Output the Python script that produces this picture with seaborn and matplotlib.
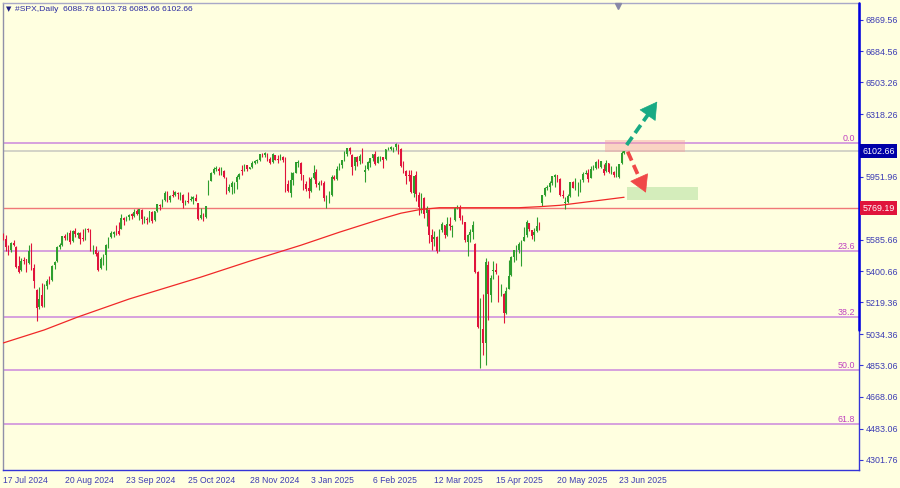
import numpy as np
import pandas as pd
import matplotlib
matplotlib.use("Agg")
import matplotlib.pyplot as plt
import matplotlib.transforms as mtransforms
from matplotlib.patches import Rectangle
import seaborn as sns

# ---------------- data ----------------
opens = [
    5610,5590,5543,5525,5566,5545,5430,5410,5465,5470,5450,
    5530,5420,5290,5190,5260,5220,5318,5345,5350,5435,5460,5540,5555,5605,5598,5625,5575,5635,5612,5625,5595,5600,
    5645,5640,5520,5525,5505,5420,5475,5495,5555,5600,5620,5635,5635,5650,5710,5705,5720,5733,5725,5750,5735,
    5758,5705,5705,5712,5745,5700,5750,5785,5780,5815,5860,5815,5845,5845,5860,5850,5845,5800,5810,5815,5820,5830,5800,
    5710,5730,5715,5850,5930,5975,5998,6000,5985,5985,5945,5870,5890,5915,5920,5950,5990,5985,6020,5998,6008,
    6030,6045,6050,6085,6078,6088,6055,6040,6080,6055,6055,6070,6050,5910,5860,5935,5975,6035,6035,5965,5910,
    5885,5870,5945,5978,5905,5918,5915,5820,5840,5845,5950,5940,5997,6020,6050,6085,6120,6080,6015,6065,6045,6080,
    5980,5995,6035,6060,6085,6030,6060,6065,6055,6115,6115,6125,6125,6140,6115,6015,5985,5960,5960,5860,
    5960,5845,5780,5830,5740,5760,5610,5590,5600,5525,5640,5670,5615,5675,5660,5700,5770,5775,5710,5690,5570,
    5610,5630,5560,5395,4990,5065,4985,5440,5265,5400,5410,5370,5280,5270,5160,5300,5380,5485,5525,5528,5560,
    5580,5610,5680,5640,5610,5635,5665,5800,5845,5885,5890,5915,5950,5960,5940,5845,5800,5803,5840,5920,5890,5910,
    5890,5935,5970,5975,5945,6000,6005,6040,6010,6000,5985,6030,5980,5981,5965,5950,6030,6088.78,
]
highs = [
    5622,5614,5557,5570,5585,5550,5490,5480,5487,5475,5552,
    5566,5441,5300,5312,5330,5328,5356,5371,5436,5464,5546,5564,5609,5620,5632,5642,5642,5651,5632,5629,5646,5651,
    5655,5645,5552,5550,5522,5484,5500,5560,5600,5636,5638,5670,5690,5733,5716,5725,5735,5742,5767,5765,5763,
    5765,5721,5718,5753,5750,5755,5796,5795,5822,5871,5870,5845,5878,5870,5866,5864,5850,5817,5862,5843,5840,5850,5802,
    5772,5741,5783,5936,5983,6012,6017,6010,6008,5993,5950,5908,5925,5920,5962,5973,6020,6025,6020,6012,6044,
    6053,6055,6088,6090,6099,6090,6066,6092,6080,6078,6085,6073,6070,5936,5982,5978,6040,6049,6037,5965,5930,
    5950,5950,6021,6000,5927,5935,5925,5847,5871,5960,5964,6014,6030,6051,6100,6119,6128,6085,6069,6074,6087,6120,
    6022,6042,6062,6084,6101,6074,6076,6065,6116,6127,6130,6129,6147,6143,6120,6044,5992,5994,5994,5959,
    5986,5865,5860,5834,5783,5765,5649,5637,5609,5645,5688,5670,5716,5715,5670,5775,5786,5788,5732,5690,5621,
    5650,5695,5565,5400,5246,5267,5481,5460,5381,5460,5450,5380,5328,5275,5309,5469,5489,5528,5553,5571,5581,
    5658,5700,5685,5642,5654,5720,5691,5845,5895,5906,5925,5959,5969,5960,5945,5878,5832,5850,5924,5930,5943,5922,
    5938,5981,5990,5999,6016,6021,6043,6059,6045,6026,6050,6035,6018,5985,6018,6028,6101,6103.78,
]
lows = [
    5584,5522,5497,5515,5550,5420,5390,5405,5444,5395,5445,
    5410,5306,5110,5180,5190,5195,5300,5325,5345,5412,5455,5530,5548,5585,5585,5560,5570,5602,5598,5560,5575,5581,
    5630,5520,5504,5490,5402,5415,5440,5406,5535,5598,5604,5614,5615,5645,5674,5695,5699,5709,5715,5730,5703,
    5675,5680,5675,5690,5685,5697,5745,5760,5775,5810,5806,5806,5836,5840,5824,5818,5770,5785,5800,5811,5796,5811,5702,
    5706,5696,5710,5846,5925,5970,5985,5960,5965,5945,5853,5865,5850,5860,5880,5940,5963,5985,5985,5995,6003,
    6025,6033,6045,6070,6070,6042,6027,6035,6050,6035,6050,6040,5866,5865,5832,5902,5975,6007,5932,5878,5870,
    5830,5865,5938,5890,5874,5905,5809,5773,5801,5840,5936,5935,5990,6006,6045,6075,6088,5962,5994,6018,6028,6030,
    5923,5990,6007,6046,6020,6030,6042,6004,6053,6107,6110,6099,6111,6084,6008,5977,5908,5928,5858,5837,
    5810,5732,5742,5711,5666,5565,5528,5546,5505,5520,5631,5598,5609,5640,5603,5695,5763,5703,5678,5572,5488,
    5573,5590,5390,5069,4835,4910,4856,5115,5220,5359,5386,5220,5255,5101,5150,5300,5371,5455,5468,5505,5434,
    5578,5603,5634,5590,5578,5628,5643,5780,5840,5875,5865,5907,5890,5920,5838,5830,5767,5800,5835,5886,5873,5843,
    5862,5924,5966,5921,5945,5994,6000,6002,6003,5963,5980,5974,5971,5950,5952,5943,6025,6085.66,
]
closes = [
    5588,5544,5505,5564,5555,5427,5399,5459,5463,5436,5522,
    5446,5346,5186,5240,5199,5319,5344,5344,5434,5455,5543,5554,5608,5597,5621,5571,5634,5616,5625,5592,5591,5648,
    5640,5529,5520,5503,5408,5471,5496,5554,5596,5626,5633,5634,5618,5713,5703,5718,5732,5722,5745,5738,5762,
    5709,5710,5699,5751,5696,5751,5792,5780,5815,5859,5815,5843,5841,5864,5853,5851,5797,5809,5808,5823,5832,5813,5705,
    5728,5712,5782,5929,5973,5996,6001,5984,5985,5949,5870,5893,5917,5917,5949,5969,5987,6021,5998,6008,6032,
    6047,6049,6087,6075,6090,6052,6034,6084,6051,6051,6074,6050,5872,5867,5931,5974,6040,6037,5970,5907,5882,
    5869,5942,5975,5909,5918,5915,5827,5836,5843,5950,5937,5997,6020,6049,6086,6119,6101,6012,6067,6039,6071,6041,
    5994,6037,6061,6083,6026,6066,6068,6052,6115,6115,6125,6129,6144,6117,6013,5983,5955,5956,5861,5955,
    5850,5778,5842,5738,5770,5615,5572,5599,5521,5639,5675,5615,5675,5663,5668,5768,5777,5712,5693,5581,5612,
    5633,5671,5397,5074,5062,4982,5457,5268,5363,5406,5397,5276,5283,5158,5288,5376,5485,5525,5529,5561,5569,
    5604,5687,5650,5607,5631,5664,5660,5844,5886,5892,5917,5958,5964,5940,5845,5842,5803,5840,5922,5889,5912,5912,
    5936,5970,5971,5939,6000,6006,6038,6022,6045,5977,6033,5982,5981,5960,5967,6025,6090,6102.66,
]

first_day, last_day = "2024-07-17", "2025-06-25"
closed_days = ["2024-12-25", "2025-01-01", "2025-04-18"]

tick_dates = ["2024-07-17", "2024-08-20", "2024-09-23", "2024-10-25", "2024-11-28", "2025-01-03",
              "2025-02-06", "2025-03-12", "2025-04-15", "2025-05-20", "2025-06-23"]
tick_labels = ["17 Jul 2024", "20 Aug 2024", "23 Sep 2024", "25 Oct 2024", "28 Nov 2024", "3 Jan 2025",
               "6 Feb 2025", "12 Mar 2025", "15 Apr 2025", "20 May 2025", "23 Jun 2025"]

price_ticks = [6869.56, 6684.56, 6503.26, 6318.26, 6126.96, 5951.96, 5585.66, 5400.66,
               5219.36, 5034.36, 4853.06, 4668.06, 4483.06, 4301.76]

# 200-day moving average (bar index, price)
ma_bar = [0, 16, 29, 49, 77, 96, 116, 131, 147, 155, 162, 170, 186, 201, 209, 217, 233, 242]
ma_val = [4983, 5059, 5134, 5239, 5367, 5460, 5553, 5629, 5705, 5740, 5760, 5772, 5772, 5772, 5778, 5786, 5816, 5833]

fib_labels = ["0.0", "23.6", "38.2", "50.0", "61.8"]
fib_prices = [6147.7, 5521.6, 5134.0, 4825.0, 4508.0]

last_price = 6102.66
support_price = 5769.19
title_text = "#SPX,Daily  6088.78 6103.78 6085.66 6102.66"

# target zones and arrows (bar index, price)
resist_zone = (234.5, 265.7, 6097.6, 6167.6)
support_zone = (243.1, 270.8, 5817.8, 5893.6)
up_arrow = (243.0, 6138.0, 254.9, 6391.0)
down_arrow = (243.4, 6099.0, 250.5, 5860.0)

# ---------------- styling ----------------
BG = "#FFFFE0"
BULL = "#2E9E2E"
BEAR = "#E0143C"
AXIS_BLUE = "#3434D8"
TEXT_BLUE = "#3C3CB4"
FIB = "#CC88DD"
FIB_TXT = "#C040C0"

sns.set_style("white")
plt.rcParams["font.family"] = ["Liberation Sans", "DejaVu Sans"]

dates = pd.bdate_range(first_day, last_day)
dates = dates[~dates.isin(pd.to_datetime(closed_days))]
n = len(closes)
dates = dates[:n]
x = np.arange(n)
o = np.array(opens, float); h = np.array(highs, float)
l = np.array(lows, float); c = np.array(closes, float)

W, H = 900, 488
fig = plt.figure(figsize=(9, 4.88), dpi=100, facecolor=BG)
ax = fig.add_axes([3 / W, 18 / H, 855.7 / W, 467 / H])
ax.set_facecolor(BG)

px_per_bar = 2.5654
x_left = -0.1
x_right = x_left + 855.7 / px_per_bar
y_top, y_bot = 6966.4, 4241.7
ax.set_xlim(x_left, x_right)
ax.set_ylim(y_bot, y_top)

# horizontal levels
for p in fib_prices:
    ax.axhline(p, color=FIB, lw=1.1, zorder=1)
ax.axhline(last_price, color="#C8C8C0", lw=1.1, zorder=1)
ax.axhline(support_price, color="#F07878", lw=1.0, zorder=1)

# zones
for (x0, x1, y0, y1), fc in [(resist_zone, "#F4A0A0"), (support_zone, "#A0D890")]:
    ax.add_patch(Rectangle((x0, y0), x1 - x0, y1 - y0, facecolor=fc, alpha=0.45,
                           edgecolor="none", zorder=2))

# candles
up = c >= o
col = np.where(up, BULL, BEAR)
ax.vlines(x, l, h, colors=col, lw=0.8, zorder=3)
body_lo = np.minimum(o, c)
body_h = np.maximum(np.abs(c - o), 2.0)
ax.bar(x, body_h, bottom=body_lo, width=0.62, color=col, linewidth=0, zorder=4)

# moving average through seaborn
sns.lineplot(x=ma_bar, y=ma_val, ax=ax, color="#F02828", lw=0.9, zorder=5)

# fib labels
for lab, p in zip(fib_labels, fib_prices):
    ax.text(x_right - 1.5, p, lab, color=FIB_TXT, fontsize=6.4, ha="right", va="bottom", zorder=6)

# dashed arrows
def dashed_arrow(x0, y0, x1, y1, color):
    p0 = ax.transData.transform((x0, y0))
    p1 = ax.transData.transform((x1, y1))
    d = p1 - p0
    u = d / np.hypot(*d)
    pb = p1 - u * 10.0
    xb, yb = ax.transData.inverted().transform(pb)
    ax.plot([x0, xb], [y0, yb], color=color, lw=2.7, ls=(0, (2.6, 1.3)),
            solid_capstyle="butt", dash_capstyle="butt", zorder=7)
    ax.annotate("", xy=(x1, y1), xytext=(xb, yb),
                arrowprops=dict(arrowstyle="-|>,head_length=0.95,head_width=0.55",
                                color=color, lw=0.5, shrinkA=0, shrinkB=0,
                                mutation_scale=12), zorder=7)

dashed_arrow(*up_arrow, "#18AA84")
dashed_arrow(*down_arrow, "#F04848")

# axes styling
ax.yaxis.tick_right()
ax.set_yticks(price_ticks)
ax.set_yticklabels([f"{v:.2f}" for v in price_ticks])
ax.tick_params(axis="y", direction="out", length=3, width=0.8, color=AXIS_BLUE,
               labelcolor=TEXT_BLUE, labelsize=6.4, pad=2)
tick_pos = [int(np.where(dates == pd.Timestamp(d))[0][0]) for d in tick_dates]
ax.set_xticks(tick_pos)
ax.set_xticklabels(tick_labels)
ax.tick_params(axis="x", direction="out", length=3, width=0.8, color=AXIS_BLUE,
               labelcolor=TEXT_BLUE, labelsize=6.2, pad=1.5)
for lab in ax.get_xticklabels():
    lab.set_horizontalalignment("left")

ax.set_xlabel(""); ax.set_ylabel("")
for side, colr, lw in [("top", "#A8A8C8", 1.0), ("left", "#9090A8", 1.0),
                       ("right", AXIS_BLUE, 1.0), ("bottom", AXIS_BLUE, 1.0)]:
    ax.spines[side].set_visible(True)
    ax.spines[side].set_color(colr)
    ax.spines[side].set_linewidth(lw)
ax.plot([1, 1], [0.30, 1], transform=ax.transAxes, color="#0000E0", lw=1.8,
        clip_on=False, zorder=10)

# price boxes on the right scale (drawn over the scale like the terminal does)
ytrans = mtransforms.blended_transform_factory(ax.transAxes, ax.transData)
for p, fc in [(last_price, "#0000A8"), (support_price, "#E0143C")]:
    ax.text(1.0 + 3.5 / 855.7, p, f"{p:.2f}", transform=ytrans, color="white", fontsize=6.4,
            ha="left", va="center", zorder=11, clip_on=False,
            bbox=dict(boxstyle="square,pad=0.25", fc=fc, ec="none"))

# chart shift marker at top
xtrans = mtransforms.blended_transform_factory(ax.transData, ax.transAxes)
ax.plot([239.6], [0.993], marker="v", markersize=5, color="#8888A8", transform=xtrans,
        clip_on=False, zorder=12)

# title
fig.text(6 / W, 1 - 9.5 / H, "\u25BC", color="#202080", fontsize=5, va="center",
         family=["DejaVu Sans"])
fig.text(15 / W, 1 - 9.5 / H, title_text, color="#2828A0", fontsize=6.1, va="center")

fig.savefig("out.png", dpi=100, facecolor=BG)
